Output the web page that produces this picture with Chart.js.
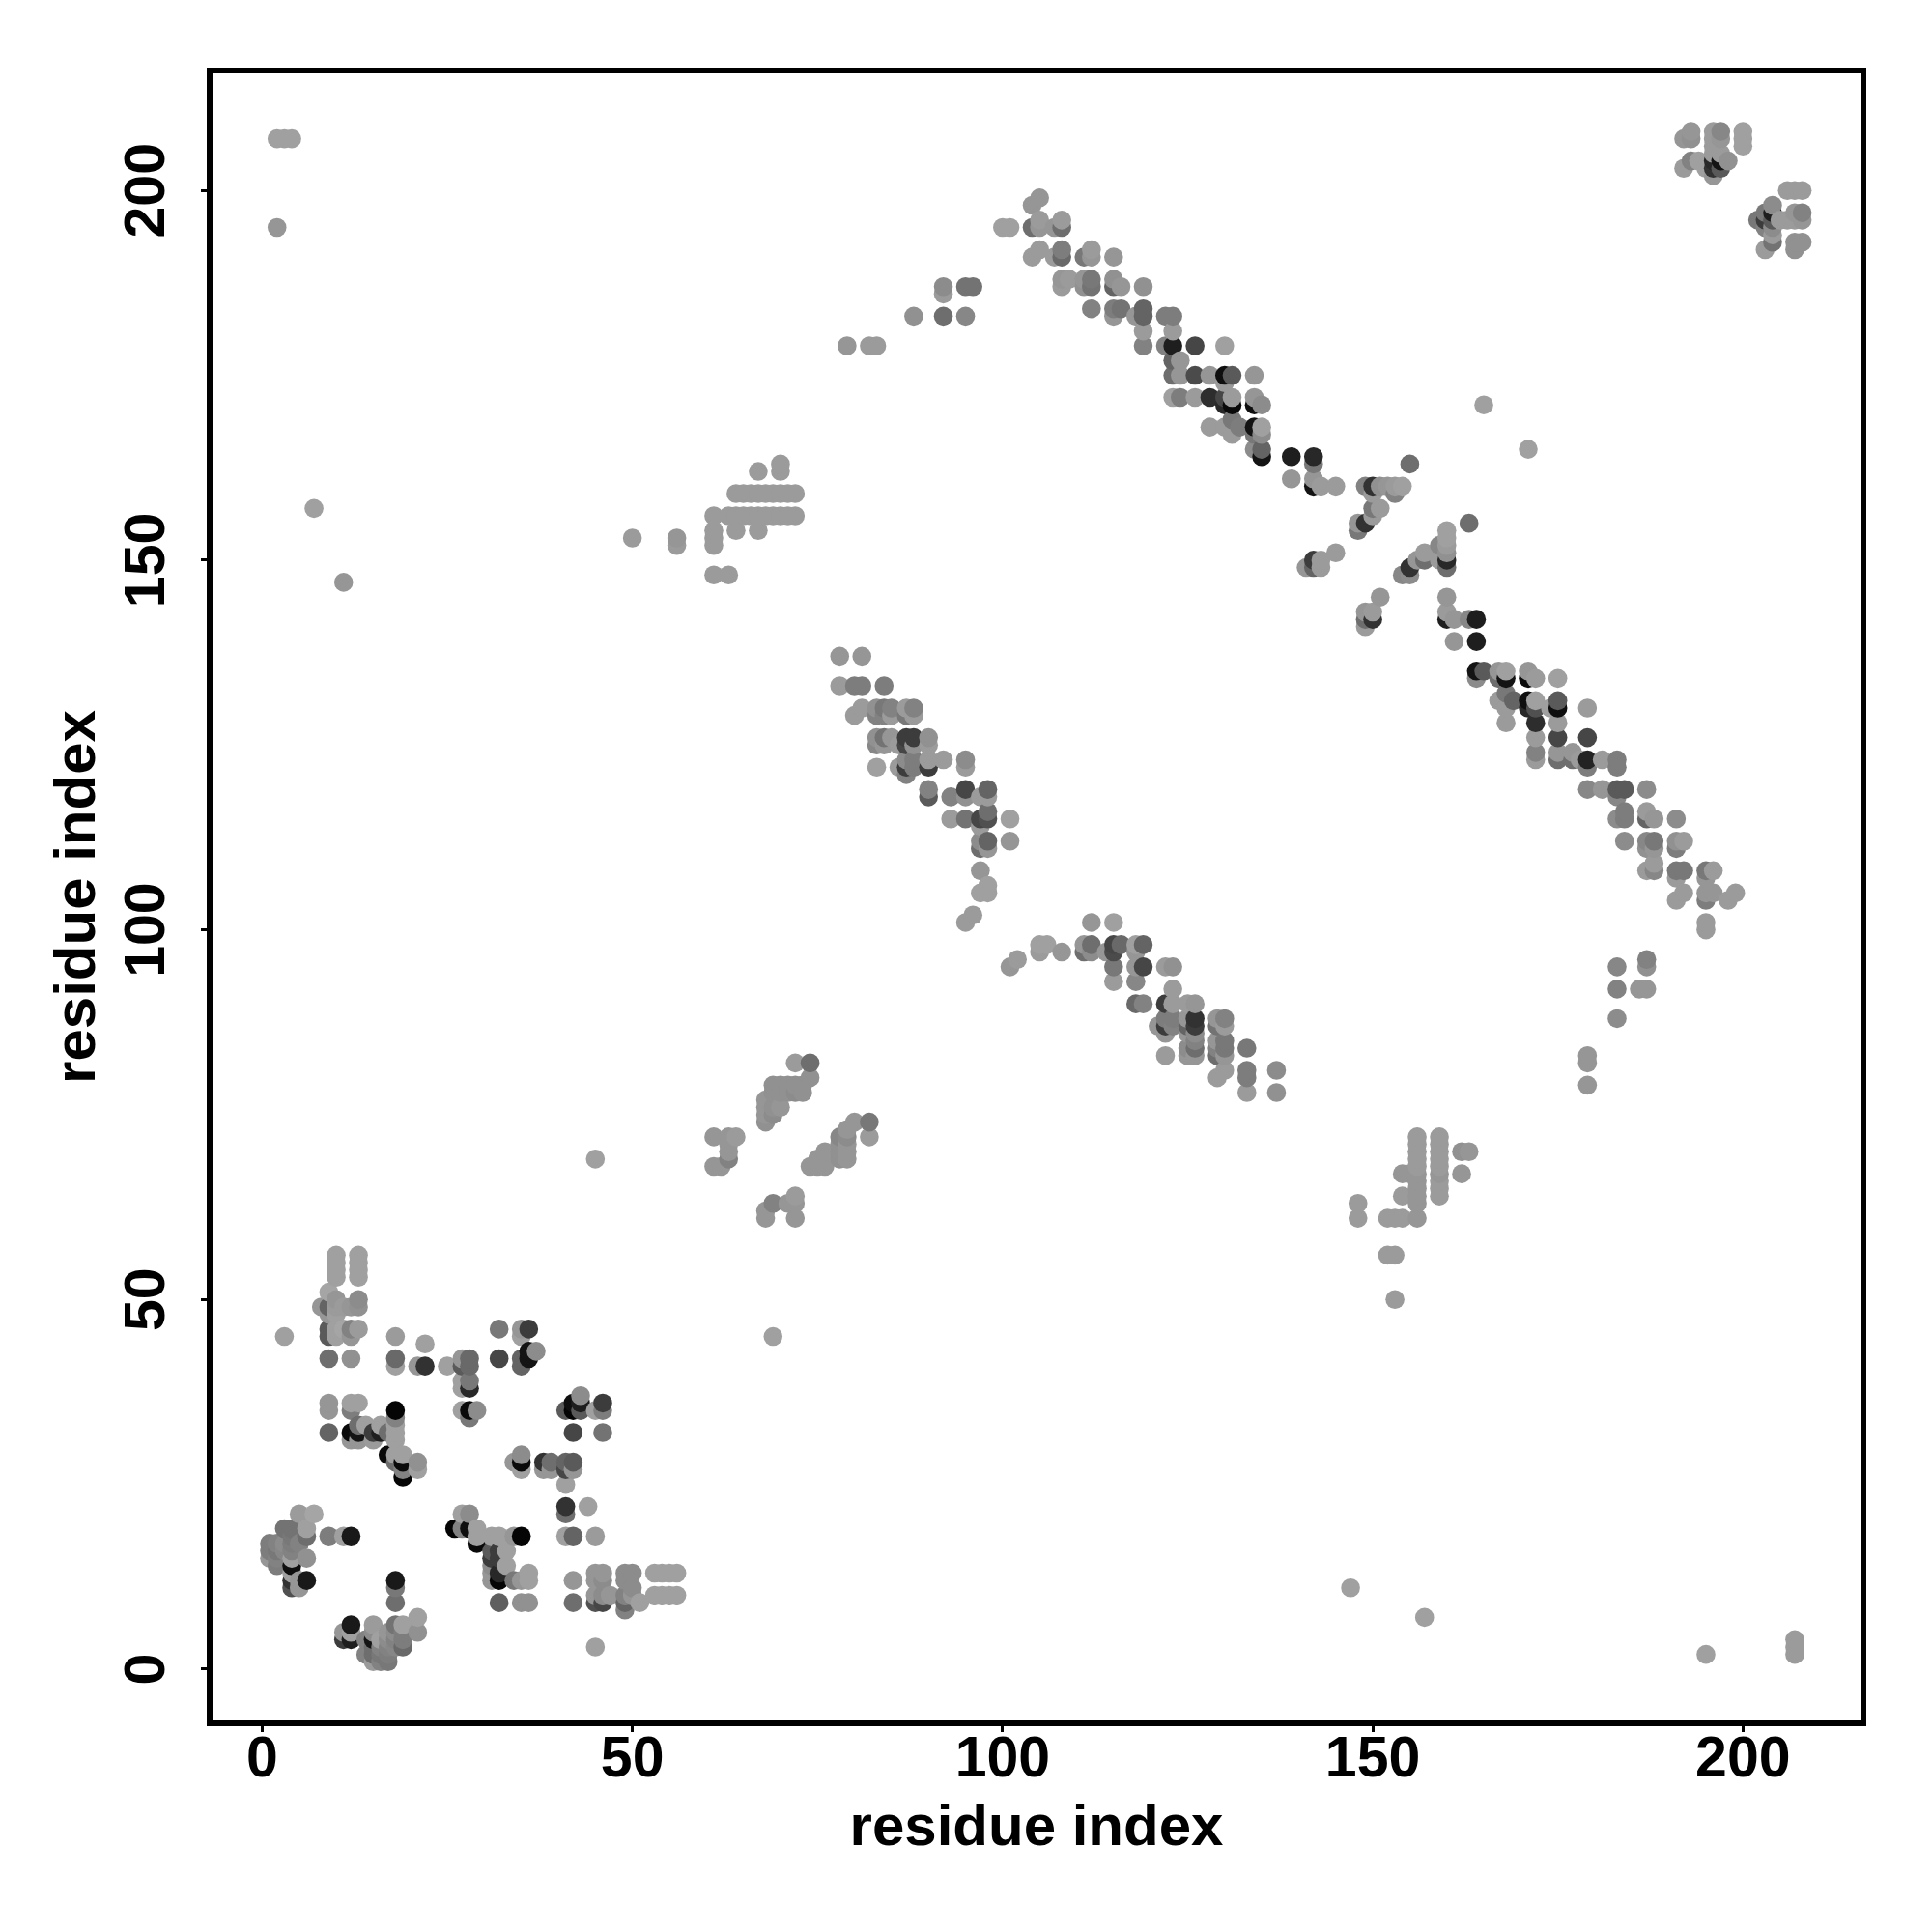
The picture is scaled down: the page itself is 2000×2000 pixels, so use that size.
<!DOCTYPE html>
<html><head><meta charset="utf-8">
<style>html,body{margin:0;padding:0;background:#fff}canvas{display:block}</style>
<script src="https://cdn.jsdelivr.net/npm/chart.js@4"></script>
</head><body><canvas id="c" width="2000" height="2000"></canvas>
<script>
// every entry: [residue x, residue y, grey level of the contact]
const isolated = [[2,207,160],[3,207,160],[4,207,160],[2,195,150],[7,157,160],[11,147,150],[45,69,160],[69,45,160],[147,11,160],[157,7,160],[195,2,160],[207,2,155],[207,3,155],[207,4,155],[165,171,160],[171,165,160],[50,153,155],[56,153,150],[56,152,155],[3,45,160],[45,3,160]];
const cornerUpper = [[10,56,160],[10,55,160],[10,54,160],[10,53,160],[13,56,160],[13,55,160],[13,54,160],[13,53,160],[9,51,165],[10,50,150],[8,49,150],[9,49,100],[10,49,155],[11,49,155],[12,49,150],[13,50,140],[13,49,145],[10,48,160],[9,48,150],[9,46,90],[9,45,90],[10,46,160],[10,45,160],[11,46,165],[12,46,130],[12,45,150],[13,46,155],[9,42,110],[12,42,145],[18,45,155],[18,42,105],[18,41,160],[22,44,160],[21,41,150],[22,41,50],[25,41,160],[27,42,150],[27,41,90],[28,42,105],[28,41,105],[27,39,160],[27,38,160],[28,39,120],[28,38,40],[27,35,160],[28,35,10],[28,34,120],[29,35,140],[32,46,120],[35,46,150],[36,46,60],[35,45,160],[32,42,70],[35,42,100],[35,41,100],[36,43,20],[36,42,20],[37,43,140],[9,36,150],[9,35,150],[12,36,160],[13,36,160],[12,35,125],[18,35,5],[18,34,130],[9,32,100],[12,32,10],[12,31,150],[13,32,20],[13,31,150],[14,33,160],[13,33,110],[15,32,60],[15,31,155],[16,33,160],[16,32,30],[17,32,110],[18,33,160],[18,32,160],[18,31,160],[17,29,10],[18,29,160],[19,29,160],[18,28,110],[19,28,10],[19,27,130],[19,26,5],[21,28,145],[21,27,160],[43,37,140],[42,36,15],[43,36,30],[41,35,90],[42,35,5],[43,35,90],[46,36,60],[45,35,160],[46,35,125],[42,32,70],[46,32,115],[34,28,150],[35,29,140],[35,28,10],[35,27,160],[38,28,50],[38,27,150],[39,28,110],[39,27,150],[41,28,100],[42,28,90],[41,27,70],[42,27,150],[41,25,160],[41,22,50],[41,21,110],[44,22,160]];
const cornerLower = [[41,18,160],[42,18,100],[45,18,155],[5,21,155],[7,21,165],[3,19,115],[4,19,115],[6,19,160],[6,18,110],[4,18,120],[9,18,125],[11,18,160],[12,18,25],[1,17,125],[1,16,125],[1,15,150],[2,17,130],[2,16,120],[2,15,130],[2,14,125],[4,16,130],[4,15,160],[4,14,15],[4,13,160],[6,15,145],[3,17,140],[3,16,135],[4,17,125],[5,17,130],[4,12,50],[4,11,80],[5,11,150],[5,12,150],[6,12,25],[26,19,5],[27,21,160],[28,21,140],[27,19,130],[28,19,15],[29,19,160],[29,18,160],[29,17,10],[31,18,160],[32,18,160],[35,18,5],[34,18,150],[31,16,90],[32,16,60],[33,16,160],[31,15,60],[32,15,60],[31,14,140],[33,14,160],[31,13,150],[31,12,150],[32,13,40],[32,12,5],[34,12,120],[35,12,150],[36,13,160],[36,12,160],[32,9,95],[35,9,145],[36,9,145],[42,12,150],[42,9,110],[45,13,150],[46,13,150],[45,12,150],[46,12,140],[45,10,150],[46,10,140],[45,9,80],[46,9,70],[47,10,150],[49,13,140],[50,13,140],[49,12,140],[49,10,130],[49,9,100],[50,10,150],[49,8,130],[51,9,160],[50,11,140],[53,13,160],[54,13,160],[55,13,160],[56,13,160],[53,10,160],[54,10,160],[55,10,160],[56,10,160],[12,6,25],[11,5,150],[12,5,160],[11,4,60],[12,4,30],[15,6,155],[18,9,110],[18,12,25],[18,11,120],[18,6,115],[19,6,160],[21,7,160],[21,5,145],[19,5,125],[19,4,125],[19,3,105],[18,5,140],[18,4,130],[18,3,135],[17,5,150],[17,4,140],[17,3,130],[16,4,160],[15,5,140],[14,4,130],[15,4,20],[14,2,130],[15,2,110],[15,1,155],[16,1,130],[17,1,120],[16,2,120],[17,2,125],[16,3,130],[15,3,110]];
const strandPairLow = [[72,82,155],[74,82,110],[74,80,145],[69,79,145],[70,79,145],[71,79,145],[72,79,145],[73,79,145],[69,78,145],[70,78,145],[71,78,145],[72,78,140],[73,78,145],[68,77,150],[68,76,150],[69,76,145],[70,76,150],[68,75,150],[69,75,140],[68,74,145],[61,72,150],[63,72,150],[64,72,155],[63,71,150],[63,70,150],[63,69,130],[61,68,150],[62,68,150],[82,74,120],[82,72,155],[80,74,150],[79,73,150],[78,72,135],[79,72,140],[78,71,145],[79,71,150],[78,70,145],[79,70,150],[78,69,145],[79,69,150],[76,70,150],[75,69,150],[74,68,150],[75,68,150],[76,68,150],[72,64,155],[72,63,150],[71,63,150],[69,63,130],[68,62,150],[68,61,150],[72,61,150]];
const diagonalA = [[78,137,150],[81,137,150],[78,133,155],[80,133,125],[81,133,125],[84,133,125],[81,130,155],[80,129,155],[83,130,145],[84,130,120],[85,130,130],[83,129,130],[84,129,130],[85,129,155],[87,130,155],[88,130,130],[87,129,120],[88,129,155],[83,126,145],[83,125,135],[84,126,115],[84,125,150],[85,126,150],[87,126,60],[88,126,60],[87,125,70],[88,125,145],[86,125,155],[90,126,145],[90,125,155],[87,123,140],[88,123,125],[87,122,60],[88,122,125],[86,122,155],[87,121,130],[90,123,155],[90,122,60],[92,123,155],[83,122,160],[95,123,140],[95,122,155],[90,119,130],[90,118,90],[93,118,130],[95,119,70],[95,118,145],[97,118,155],[98,119,100],[98,118,155],[93,115,155],[95,115,115],[97,115,70],[98,116,110],[98,115,80],[97,114,155],[101,115,160],[97,112,140],[98,112,100],[97,111,110],[98,111,150],[101,112,150],[97,108,150],[98,106,160],[97,105,160],[98,105,160],[96,102,155],[95,101,155]];
const diagonalB = [[112,101,150],[115,101,160],[101,95,150],[102,96,155],[105,98,160],[106,98,160],[105,97,155],[108,97,150],[111,98,150],[112,98,110],[111,97,110],[112,97,140],[114,97,150],[115,98,70],[115,97,75],[116,98,105],[115,95,120],[115,93,155],[118,98,160],[119,98,100],[118,97,150],[118,95,150],[119,95,70],[118,93,135],[122,95,155],[123,95,145],[123,92,155],[118,90,105],[119,90,130],[122,90,60],[123,90,155],[121,87,150],[122,88,125],[123,88,125],[122,87,60],[123,87,130],[122,86,150],[125,90,155],[126,90,150],[125,88,150],[126,88,50],[126,87,60],[125,87,100],[125,86,150],[126,86,140],[126,85,130],[125,84,140],[125,83,150],[126,83,150],[126,84,110],[122,83,155],[129,88,150],[130,88,130],[129,87,115],[130,87,155],[129,85,150],[130,85,120],[129,84,130],[130,84,120],[129,83,110],[130,83,150],[130,81,155],[129,80,155],[133,84,120],[133,81,125],[133,80,125],[133,78,155],[137,81,140],[137,78,145]];
const diagonalC = [[105,199,150],[104,198,150],[100,195,160],[101,195,160],[104,195,110],[105,195,150],[105,196,155],[107,195,150],[108,195,110],[108,196,155],[105,192,155],[104,191,155],[107,191,155],[108,192,125],[108,191,105],[111,191,120],[112,192,155],[112,191,150],[115,191,150],[108,188,150],[109,188,155],[108,187,155],[111,188,150],[111,187,145],[112,188,120],[112,187,115],[115,188,145],[115,187,100],[116,187,150],[119,187,145],[112,184,130],[115,184,125],[116,184,115],[115,183,150],[118,183,150],[119,184,100],[119,183,100],[122,183,125],[123,183,125],[119,181,155],[123,181,155],[119,179,130],[122,179,130],[123,179,30],[126,179,70],[130,179,160],[123,177,100],[124,177,150],[123,175,110],[124,175,150],[126,175,75],[128,175,150],[130,175,15],[131,175,90],[134,175,150],[130,174,155],[123,172,160],[124,172,125],[126,172,155],[128,172,45],[130,172,70],[131,172,155],[130,171,40],[131,171,10],[134,172,150],[134,171,15],[135,171,140],[131,169,120],[128,168,155],[130,168,155],[132,168,125],[131,167,155],[134,168,20],[135,168,160],[134,167,120],[135,167,140],[134,165,140],[135,165,100],[135,164,20],[139,164,30],[142,164,40],[79,179,150],[82,179,155],[83,179,155],[88,183,145],[92,187,140],[92,186,155],[95,187,115],[96,187,115],[92,183,110],[95,183,135]];
const diagonalD = [[142,163,120],[139,161,150],[142,161,150],[142,160,20],[143,160,155],[145,160,155],[155,163,110],[149,160,130],[150,160,50],[151,160,145],[152,160,150],[153,160,155],[154,160,160],[153,159,130],[150,159,155],[150,157,120],[151,157,155],[150,156,155],[149,155,50],[148,155,150],[148,154,120],[145,151,155],[142,150,60],[143,150,155],[142,149,100],[141,149,150],[143,149,155],[154,148,135],[155,149,50],[155,148,140],[156,150,150],[157,151,155],[157,150,110],[159,152,135],[160,154,160],[160,153,160],[160,152,155],[160,151,145],[160,150,40],[160,149,110],[159,150,155],[151,145,150],[149,143,150],[150,143,155],[149,142,110],[150,142,50],[149,141,155],[160,145,150],[160,143,155],[160,142,30],[161,142,150],[163,155,110],[164,142,30],[163,142,135],[161,139,150],[164,139,30]];
const diagonalE = [[164,135,20],[165,135,90],[164,134,140],[167,135,150],[168,135,160],[167,134,110],[168,134,20],[171,135,150],[171,134,10],[172,134,155],[175,134,160],[168,132,120],[167,131,155],[169,131,100],[168,130,155],[168,128,155],[171,131,15],[172,131,160],[171,130,40],[172,130,80],[172,128,45],[174,130,160],[175,131,90],[175,130,15],[175,128,155],[179,130,155],[172,126,155],[175,126,70],[179,126,70],[172,124,130],[172,123,155],[175,124,150],[175,123,110],[177,124,150],[177,123,110],[178,123,155],[179,123,35],[179,122,125],[181,123,155],[183,123,125],[183,122,125],[179,119,135],[181,119,150],[183,119,90],[184,119,90],[183,118,135],[187,119,140],[184,116,125],[183,115,140],[184,115,125],[187,116,155],[187,115,100],[188,115,150],[191,115,140],[184,112,140],[187,112,135],[188,112,120],[187,111,145],[188,111,150],[191,112,145],[192,112,155],[191,111,125],[188,109,155],[187,108,155],[188,108,135],[191,108,120],[192,108,120],[191,107,155],[195,108,120],[196,108,155],[195,107,150],[192,105,155],[191,104,155],[195,105,150],[196,105,150],[195,104,125],[199,105,155],[198,104,155],[195,101,155],[195,100,155]];
const strandPairHigh = [[67,162,155],[70,163,155],[70,162,155],[64,159,155],[65,159,155],[66,159,155],[67,159,155],[68,159,155],[69,159,155],[70,159,155],[71,159,155],[72,159,155],[61,156,155],[63,156,155],[64,156,155],[65,156,155],[66,156,155],[67,156,155],[68,156,155],[69,156,155],[70,156,155],[71,156,155],[72,156,155],[61,154,155],[61,153,155],[61,152,155],[64,154,155],[67,154,155],[61,148,155],[63,148,155]];
const offDiagonal = [[179,79,150],[179,82,150],[179,83,150],[183,88,140],[183,92,130],[183,95,135],[187,95,145],[187,96,130],[186,92,150],[187,92,150],[153,50,155],[152,56,155],[153,56,155],[148,63,155],[148,61,155],[152,61,155],[153,61,155],[154,61,155],[156,61,150],[154,64,155],[154,67,150],[155,67,150],[156,72,155],[156,71,155],[156,70,155],[156,69,155],[156,68,155],[156,67,150],[156,66,150],[156,65,150],[156,64,150],[156,63,150],[159,72,155],[159,71,155],[159,70,155],[159,69,155],[159,68,155],[159,67,150],[159,66,155],[159,65,155],[159,64,155],[162,70,145],[163,70,150],[162,67,150]];
const cornerTopRight = [[193,208,150],[192,207,150],[193,207,145],[196,208,155],[197,208,135],[196,207,155],[197,207,150],[200,208,160],[200,207,160],[200,206,160],[196,206,155],[193,204,130],[192,203,155],[194,204,160],[195,203,160],[196,204,40],[196,205,155],[197,205,155],[198,204,145],[197,204,20],[196,203,50],[197,203,90],[196,202,150],[206,200,155],[207,200,155],[208,200,155],[204,198,140],[203,197,120],[204,197,30],[202,196,120],[203,196,60],[204,196,90],[203,195,130],[204,195,140],[205,196,155],[206,196,155],[207,197,150],[208,197,130],[207,196,155],[208,196,150],[204,194,155],[204,193,115],[203,192,155],[207,193,145],[208,193,145],[207,192,145]];
const axisTicks = [0,50,100,150,200];
const axisLabel = 'residue index';

const contacts = [...isolated,...cornerUpper,...cornerLower,...strandPairLow,...diagonalA,...diagonalB,...diagonalC,...diagonalD,...diagonalE,...strandPairHigh,...offDiagonal,...cornerTopRight]
  .slice().sort((a,b)=>a[0]-b[0]||a[1]-b[1]);

const frame = {id:'frame',afterDatasetsDraw(ch){const a=ch.chartArea,c=ch.ctx;c.save();c.strokeStyle='#000';c.lineWidth=6;c.strokeRect(a.left,a.top,a.right-a.left,a.bottom-a.top);c.restore();}};
const tickFont = {family:'"Liberation Sans"',weight:'bold',size:59};
const titleFont = {family:'"Liberation Sans"',weight:'bold',size:60};
const tickSet = ()=>axisTicks.map(v=>({value:v}));
new Chart(document.getElementById('c'),{
  type:'scatter',
  data:{datasets:[{
    data:contacts.map(p=>({x:p[0],y:p[1]})),
    backgroundColor:contacts.map(p=>`rgb(${p[2]},${p[2]},${p[2]})`),
    pointRadius:9.8,pointBorderWidth:0,pointHoverRadius:9.8
  }]},
  options:{
    responsive:false,animation:false,devicePixelRatio:1,
    layout:{padding:{top:73,right:71,left:0,bottom:0}},
    plugins:{legend:{display:false},tooltip:{enabled:false}},
    scales:{
      x:{type:'linear',min:-7.1,max:216.27,
        afterBuildTicks(s){s.ticks=tickSet();},
        afterFit(s){s.height=216;},
        grid:{drawOnChartArea:false,drawTicks:true,tickLength:9,tickWidth:3,tickColor:'#000'},
        border:{display:false},
        ticks:{color:'#000',font:tickFont,padding:-6,maxRotation:0,minRotation:0,autoSkip:false},
        title:{display:true,text:axisLabel,color:'#000',font:titleFont,padding:{top:0,bottom:71}}},
      y:{type:'linear',min:-7.32,max:216.23,
        afterBuildTicks(s){s.ticks=tickSet();},
        afterFit(s){s.width=217;},
        grid:{drawOnChartArea:false,drawTicks:true,tickLength:9,tickWidth:3,tickColor:'#000'},
        border:{display:false},
        ticks:{color:'#000',font:tickFont,padding:5,minRotation:90,maxRotation:90,autoSkip:false,align:'center',crossAlign:'center'},
        title:{display:true,text:axisLabel,color:'#000',font:titleFont,padding:{top:45,bottom:0}}}
    }
  },
  plugins:[frame]
});
</script></body></html>
